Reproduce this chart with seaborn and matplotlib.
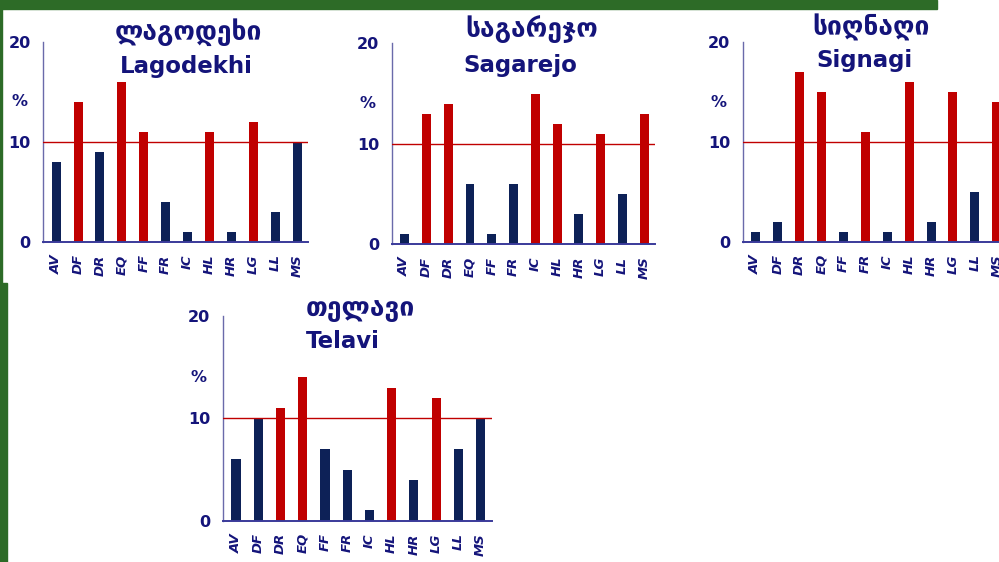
import matplotlib
matplotlib.use("Agg")
import matplotlib.pyplot as plt
import seaborn as sns

categories = ["AV", "DF", "DR", "EQ", "FF", "FR", "IC", "HL", "HR", "LG", "LL", "MS"]

lagodekhi = [8, 14, 9, 16, 11, 4, 1, 11, 1, 12, 3, 10]
sagarejo = [1, 13, 14, 6, 1, 6, 15, 12, 3, 11, 5, 13]
signagi = [1, 2, 17, 15, 1, 11, 1, 16, 2, 15, 5, 14]
telavi = [6, 10, 11, 14, 7, 5, 1, 13, 4, 12, 7, 10]

titles_ka = ["ლაგოდეხი", "საგარეჯო", "სიღნაღი", "თელავი"]
titles_en = ["Lagodekhi", "Sagarejo", "Signagi", "Telavi"]

threshold = 10

NAVY = "#0d2157"
RED = "#c00000"
TEXT = "#14147a"
GREEN = "#2d6b27"

W, H = 999, 562

# pixel boxes of the four panels: left, right, y of 0, y of 20
boxes = [(43, 308, 242, 42), (391.7, 655, 244.3, 43.3),
         (742.7, 1007.7, 241.7, 42.3), (222.7, 491.7, 520.7, 316)]
# title anchors in axes fractions: (x_ka, y_ka, x_en, y_en_baseline)
title_pos = [(0.547, 1.051, 0.54, 0.845), (0.532, 1.070, 0.49, 0.857),
             (0.483, 1.070, 0.458, 0.876), (0.513, 1.034, 0.447, 0.844)]


def px_axes(fig, left, right, y0, y20):
    return fig.add_axes([left / W, (H - y0) / H, (right - left) / W, (y0 - y20) / H])


def draw_panel(ax, values, title_ka, title_en, pos):
    colors = {c: (RED if v > threshold else NAVY) for c, v in zip(categories, values)}
    sns.barplot(x=categories, y=values, hue=categories, palette=colors,
                width=0.41, saturation=1, legend=False, linewidth=0, ax=ax)
    ax.set_xlim(-0.6, 11.5)
    ax.set_ylim(0, 20)
    ax.axhline(threshold, color=RED, lw=1.0, zorder=3)

    for s in ["top", "right"]:
        ax.spines[s].set_visible(False)
    ax.spines["left"].set_color("#6a6aaa")
    ax.spines["bottom"].set_color("#3a3a9a")
    ax.spines["left"].set_linewidth(1.0)
    ax.spines["bottom"].set_linewidth(1.4)

    ax.set_yticks([0, 10, 20])
    ax.set_yticklabels(["0", "10", "20"], fontsize=11.5, fontweight="heavy", color=TEXT)
    ax.tick_params(axis="y", length=3, color="#6a6aaa", pad=6)

    ax.set_xticks([i - 0.5 for i in range(13)], minor=True)
    ax.set_xticks(range(len(categories)))
    ax.set_xticklabels(categories, rotation=90, fontsize=9.5, fontweight="heavy",
                       fontstyle="italic", color=TEXT)
    ax.tick_params(axis="x", which="major", length=0, pad=9)
    ax.tick_params(axis="x", which="minor", length=3.5, width=1.2, color="#444466")
    ax.set_xlabel("")
    ax.set_ylabel("")
    ax.grid(False)

    ax.text(-0.06, 14, "%", transform=ax.get_yaxis_transform(), ha="right", va="center",
            fontsize=11.5, fontweight="heavy", color=TEXT)
    ax.text(pos[0], pos[1], title_ka, transform=ax.transAxes, ha="center", va="center",
            fontsize=19, fontweight="bold", color=TEXT, clip_on=False)
    ax.text(pos[2], pos[3], title_en, transform=ax.transAxes, ha="center", va="baseline",
            fontsize=16.5, fontweight="bold", color=TEXT, clip_on=False)


def main():
    sns.set_theme(style="white")
    plt.rcParams["font.family"] = ["DejaVu Sans"]

    fig = plt.figure(figsize=(W / 100, H / 100), dpi=100)
    fig.patch.set_facecolor("white")

    # green frame pieces of the slide
    fig.patches.append(plt.Rectangle((0, (H - 9) / H), 937 / W, 9 / H,
                                     transform=fig.transFigure, color=GREEN, zorder=0))
    fig.patches.append(plt.Rectangle((0, 0), 2 / W, 1, transform=fig.transFigure,
                                     color=GREEN, zorder=0))
    fig.patches.append(plt.Rectangle((0, 0), 7 / W, (H - 283) / H, transform=fig.transFigure,
                                     color=GREEN, zorder=0))

    series = [lagodekhi, sagarejo, signagi, telavi]
    for box, vals, ka, en, pos in zip(boxes, series, titles_ka, titles_en, title_pos):
        ax = px_axes(fig, *box)
        draw_panel(ax, vals, ka, en, pos)

    fig.savefig("out.png", dpi=100)


if __name__ == "__main__":
    main()
